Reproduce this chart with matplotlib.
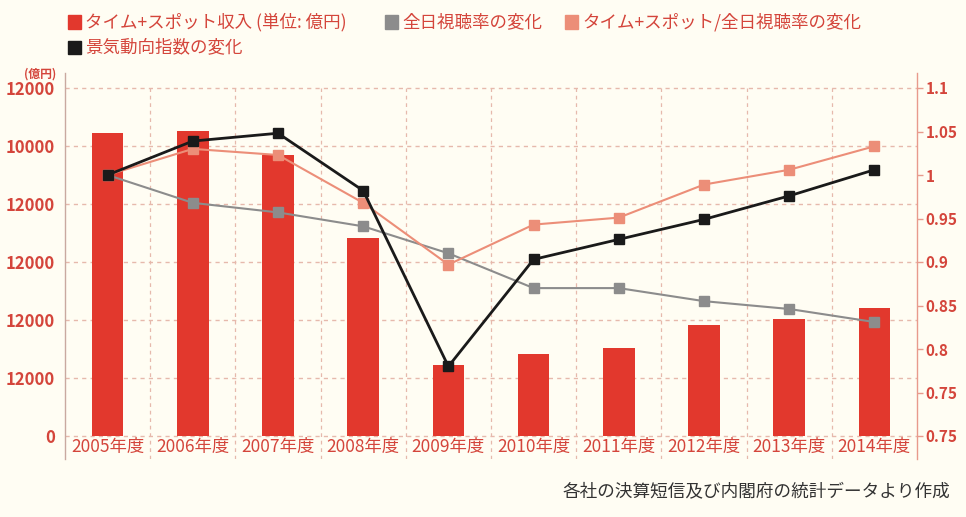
import matplotlib.pyplot as plt
from matplotlib.patches import Rectangle
import numpy as np

plt.rcParams['font.family'] = ['Noto Sans CJK JP', 'DejaVu Sans']

years = ['2005年度', '2006年度', '2007年度', '2008年度', '2009年度',
         '2010年度', '2011年度', '2012年度', '2013年度', '2014年度']
revenue = [10450, 10520, 9690, 6830, 2450, 2830, 3030, 3830, 4030, 4420]
rating = [1.0, 0.968, 0.957, 0.941, 0.910, 0.870, 0.870, 0.855, 0.846, 0.831]
rev_per_rating = [1.0, 1.030, 1.023, 0.968, 0.897, 0.943, 0.951, 0.989, 1.006, 1.033]
business_index = [1.0, 1.039, 1.048, 0.982, 0.780, 0.903, 0.926, 0.949, 0.976, 1.006]

left_ticks = [0, 2000, 4000, 6000, 8000, 10000, 12000]
left_labels = ['0', '12000', '12000', '12000', '12000', '10000', '12000']
right_ticks = [0.7, 0.75, 0.8, 0.85, 0.9, 0.95, 1.0, 1.05, 1.1]
right_labels = ['0.75', '0.75', '0.8', '0.85', '0.9', '0.95', '1', '1.05', '1.1']

bg = '#FFFDF3'
red = '#E2382D'
gray = '#8C8C8C'
salmon = '#EC8E78'
black = '#1A1A1A'
txt = '#D4453B'
grid_c = '#E6B9AC'

W, H = 966, 517
fig = plt.figure(figsize=(W / 100, H / 100), dpi=100, facecolor=bg)
ax = fig.add_axes([65 / W, 1 - 459 / H, (917 - 65) / W, (459 - 73) / H])
ax.set_facecolor(bg)
ax.set_axisbelow(True)

# left scale: 29 px per 1000, 0 sits at y=436
y_lo = -(459 - 436) / 0.029
y_hi = 12000 + (88 - 73) / 0.029

x = np.arange(len(years))
ax.bar(x, revenue, width=0.37, color=red, zorder=2)
ax.set_xlim(-0.5, len(years) - 0.5)
ax.set_ylim(y_lo, y_hi)
ax.set_yticks(left_ticks)
ax.set_yticklabels(left_labels)
ax.yaxis.grid(True, linestyle=(0, (3, 3)), color=grid_c, linewidth=1)
ax.vlines(x[:-1] + 0.5, y_lo, 12000, colors=grid_c, linestyles=(0, (3, 3)),
          linewidth=0.9, zorder=0)

ax.set_xticks(x)
ax.set_xticklabels(years)
ax.tick_params(axis='x', length=0, pad=-15, labelsize=12.5, labelcolor=txt)
ax.tick_params(axis='y', length=0, pad=7, labelsize=12, labelcolor=txt)
for lab in ax.get_yticklabels():
    lab.set_fontweight('bold')
for s in ['top', 'bottom', 'right']:
    ax.spines[s].set_visible(False)
ax.spines['left'].set_color('#C9A9A0')
ax.spines['left'].set_linewidth(1)

# right scale: 870 px per unit, 0.7 sits at y=436
ax2 = ax.twinx()
ax2.patch.set_visible(False)
ax2.set_ylim(0.7 - (459 - 436) / 870, 1.1 + (88 - 73) / 870)
ax2.plot(x, rating, color=gray, lw=1.5, marker='s', ms=6.5, zorder=3)
ax2.plot(x, rev_per_rating, color=salmon, lw=1.5, marker='s', ms=6.5, zorder=4)
ax2.plot(x, business_index, color=black, lw=2, marker='s', ms=6.5, zorder=5)
ax2.set_yticks(right_ticks)
ax2.set_yticklabels(right_labels)
ax2.tick_params(axis='y', length=4, width=1, color='#E89A8C', pad=2,
                labelsize=11, labelcolor=txt)
for lab in ax2.get_yticklabels():
    lab.set_fontweight('bold')
for s in ['top', 'bottom', 'left']:
    ax2.spines[s].set_visible(False)
ax2.spines['right'].set_color('#E89A8C')
ax2.spines['right'].set_linewidth(1)

fig.text(56 / W, 1 - 74 / H, '(億円)', color=txt, fontsize=8.5,
         ha='right', va='center', fontweight='bold')

# legend: colour square + label, two rows
legend_items = [
    (red, 'タイム+スポット収入 (単位: 億円)', 68, 22),
    (gray, '全日視聴率の変化', 385, 22),
    (salmon, 'タイム+スポット/全日視聴率の変化', 565, 22),
    (black, '景気動向指数の変化', 68, 47),
]
sq = 13
for color, label, px, py in legend_items:
    fig.patches.append(Rectangle((px / W, 1 - (py + sq / 2) / H), sq / W, sq / H,
                                 color=color, transform=fig.transFigure))
    fig.text((px + sq + 4) / W, 1 - py / H, label, color=txt, fontsize=12.6,
             ha='left', va='center')

fig.text(950 / W, 1 - 491 / H, '各社の決算短信及び内閣府の統計データより作成',
         color='#333333', fontsize=12.7, ha='right', va='center')

fig.savefig('out.png', dpi=100, facecolor=bg)
